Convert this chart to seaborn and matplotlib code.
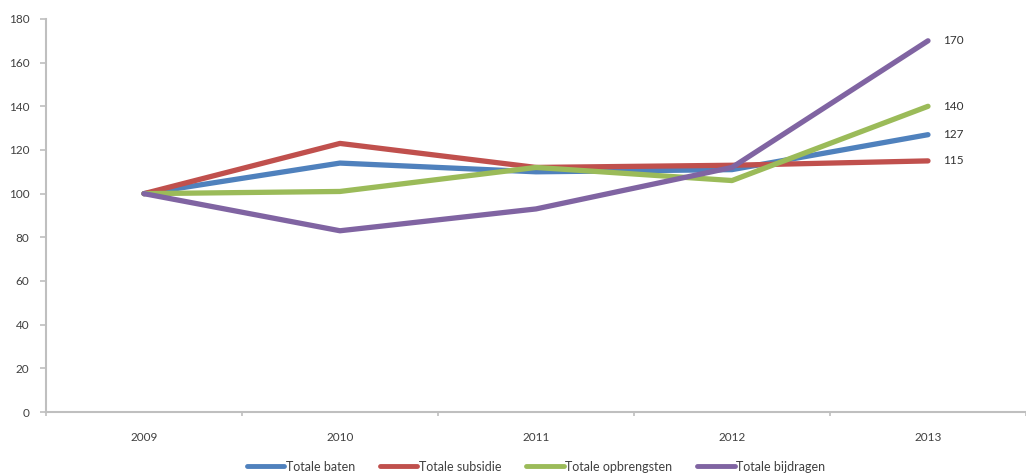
import pandas as pd
import seaborn as sns
import matplotlib.pyplot as plt
import numpy as np

# Data (index, 2009 = 100)
years = [2009, 2010, 2011, 2012, 2013]
totale_baten = [100, 114, 110, 111, 127]
totale_subsidie = [100, 123, 112, 113, 115]
totale_opbrengsten = [100, 101, 112, 106, 140]
totale_bijdragen = [100, 83, 93, 112, 170]

series_names = ['Totale baten', 'Totale subsidie', 'Totale opbrengsten', 'Totale bijdragen']
colors = ['#4F81BD', '#C0504D', '#9BBB59', '#8064A2']

df = pd.DataFrame({
    'jaar': years * 4,
    'waarde': totale_baten + totale_subsidie + totale_opbrengsten + totale_bijdragen,
    'reeks': np.repeat(series_names, len(years)),
})

sns.set_style('white')
plt.rcParams['font.family'] = ['Lato', 'DejaVu Sans']

fig = plt.figure(figsize=(10.26, 4.74), dpi=100)
ax = fig.add_axes([0.0448, 0.1308, 1.0 - 0.0448, 0.96 - 0.1308])

sns.lineplot(data=df, x='jaar', y='waarde', hue='reeks', hue_order=series_names,
             palette=colors, linewidth=3.8, ax=ax, legend=True)
for line in ax.lines:
    line.set_solid_capstyle('round')
    line.set_solid_joinstyle('round')

# end labels
for name, vals in zip(series_names, [totale_baten, totale_subsidie, totale_opbrengsten, totale_bijdragen]):
    ax.annotate(str(vals[-1]), xy=(years[-1], vals[-1]), xytext=(11, 0),
                textcoords='offset points', va='center', ha='left',
                fontsize=8.5, color='#333333')

ax.set_ylim(0, 180)
ax.set_yticks(range(0, 181, 20))
ax.set_xlim(years[0] - 0.5, years[0] - 0.5 + (1026 - 46) / 198.0)
ax.set_xticks(years)
ax.set_xticklabels([str(y) for y in years])
ax.set_xticks([y - 0.5 for y in years] + [years[-1] + 0.5], minor=True)
ax.set_xlabel('')
ax.set_ylabel('')

for side in ['top', 'right']:
    ax.spines[side].set_visible(False)
for side in ['left', 'bottom']:
    ax.spines[side].set_color('#BFBFBF')
    ax.spines[side].set_linewidth(1.5)

ax.tick_params(axis='y', which='major', left=True, length=4, width=1.2, color='#BFBFBF',
               labelsize=8.5, labelcolor='#404040', pad=8)
ax.tick_params(axis='x', which='major', bottom=False, labelsize=8.5, labelcolor='#404040', pad=11)
ax.tick_params(axis='x', which='minor', bottom=True, length=3, width=1.2, color='#BFBFBF')

leg = ax.legend(loc='upper center', bbox_to_anchor=(0.5, -0.095), ncol=4, frameon=False,
                handlelength=3.0, handletextpad=0.1, columnspacing=2.0, fontsize=9)
for h in leg.get_lines():
    h.set_linewidth(3.5)
for t in leg.get_texts():
    t.set_color('#404040')

fig.savefig('out.png', dpi=100)
